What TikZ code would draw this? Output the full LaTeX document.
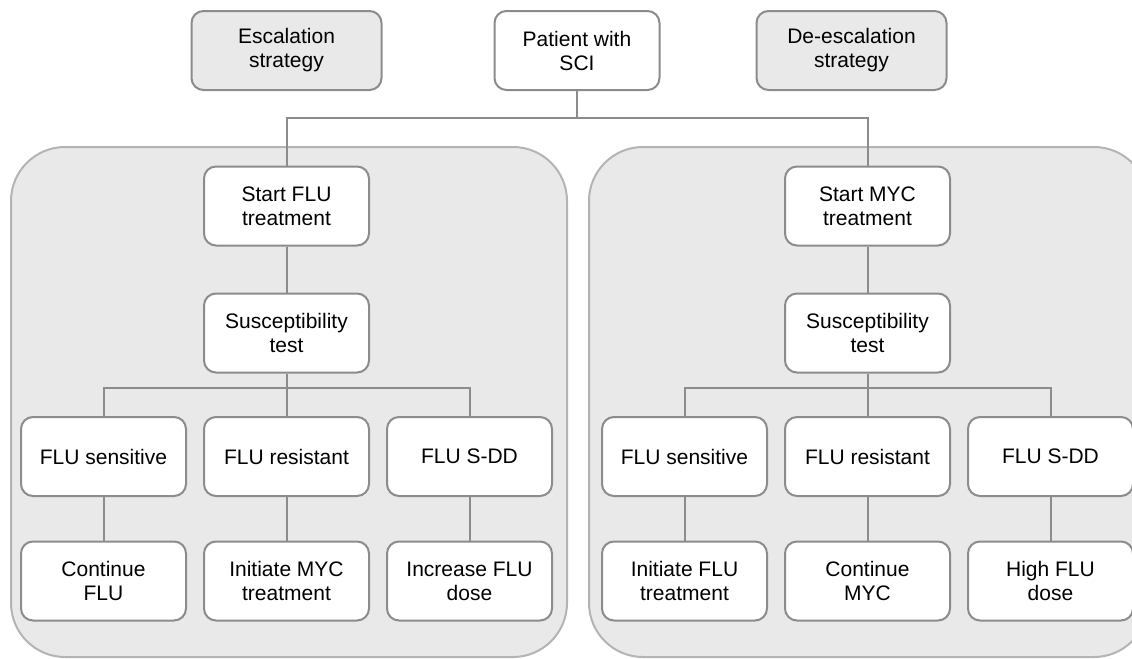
\documentclass[tikz,border=0pt]{standalone}
\usepackage{fontspec}
\setmainfont{Liberation Sans}
\definecolor{boxgray}{HTML}{8C8C8C}
\definecolor{panelgray}{HTML}{B4B4B4}
\definecolor{panelfill}{HTML}{E9E9E9}
\begin{document}
\begin{tikzpicture}[x=0.5pt,y=-0.5pt]
        \tikzstyle{every node}=[draw=boxgray,line width=1pt,rounded corners=6pt,fill=white,align=center,minimum width=82.5pt,minimum height=39.5pt,inner sep=2pt,font=\fontsize{10.5}{12}\selectfont]
        \tikzstyle{edge from parent}=[draw=boxgray,line width=1pt]
        \tikzset{elbow/.style={edge from parent path={(\tikzparentnode.south) -- ++(0,-#1) -| (\tikzchildnode.north)}}}
        \tikzstyle{level 1}=[level distance=77.75pt, sibling distance=290.5pt, elbow=13.5pt]
        \tikzstyle{level 2}=[level distance=63.5pt]
        \tikzstyle{level 3}=[level distance=61.75pt, sibling distance=91.5pt, elbow=7pt]
        \tikzstyle{level 4}=[level distance=62.25pt]
        \tikzstyle{strategy}=[fill=panelfill, minimum width=95pt]
        \tikzstyle{panel}=[draw=panelgray, fill=panelfill, line width=1pt, rounded corners=27pt]
        \clip (0,0) rectangle (1132,659);
        % the two strategy panels
        \draw[panel] (11,147) rectangle (567,657);
        \draw[panel] (589,147) rectangle (1148,657);
        \node[strategy] (escal) at (286.5,50.5) {Escalation\\strategy};
        \node[strategy] (deescal) at (851.5,50.5) {De-escalation\\strategy};
        \node (patient) at (577,50.5) {Patient with\\SCI}
            child {node (startflu) {Start FLU\\treatment}
                child {node (susleft) {Susceptibility\\test}
                    child {node (sensleft) {FLU sensitive} child {node (contflu) {Continue\\FLU}}}
                    child {node (resleft) {FLU resistant} child {node (initmyc) {Initiate MYC\\treatment}}}
                    child {node (sddleft) {FLU S-DD} child {node (incflu) {Increase FLU\\dose}}}}}
            child {node (startmyc) {Start MYC\\treatment}
                child {node (susright) {Susceptibility\\test}
                    child {node (sensright) {FLU sensitive} child {node (initflu) {Initiate FLU\\treatment}}}
                    child {node (resright) {FLU resistant} child {node (contmyc) {Continue\\MYC}}}
                    child {node (sddright) {FLU S-DD} child {node (highflu) {High FLU\\dose}}}}};
    \end{tikzpicture}
\end{document}
